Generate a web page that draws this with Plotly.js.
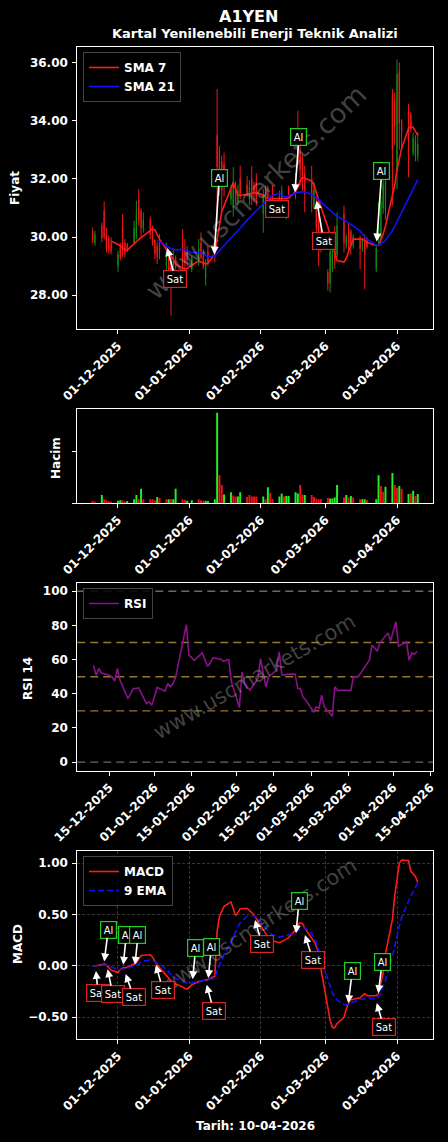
<!DOCTYPE html>
<html><head><meta charset="utf-8">
<script src="https://cdn.plot.ly/plotly-3.0.1.min.js"></script>
<style>html,body{margin:0;padding:0;background:#000;}#chart{width:448px;height:1142px;}</style>
</head><body><div id="chart"></div>
<script>
const dates = ['2025-11-20','2025-11-21','2025-11-24','2025-11-25','2025-11-26','2025-11-27','2025-11-28',
'2025-12-01','2025-12-02','2025-12-03','2025-12-04','2025-12-05',
'2025-12-08','2025-12-09','2025-12-10','2025-12-11','2025-12-12',
'2025-12-15','2025-12-16','2025-12-17','2025-12-18','2025-12-19',
'2025-12-22','2025-12-23','2025-12-24','2025-12-25','2025-12-26',
'2025-12-29','2025-12-30','2025-12-31','2026-01-02',
'2026-01-05','2026-01-06','2026-01-07','2026-01-08','2026-01-09',
'2026-01-12','2026-01-13','2026-01-14','2026-01-15','2026-01-16',
'2026-01-19','2026-01-20','2026-01-21','2026-01-22','2026-01-23',
'2026-01-26','2026-01-27','2026-01-28','2026-01-29','2026-01-30',
'2026-02-02','2026-02-03','2026-02-04','2026-02-05','2026-02-06',
'2026-02-09','2026-02-10','2026-02-11','2026-02-12','2026-02-13',
'2026-02-16','2026-02-17','2026-02-18','2026-02-19','2026-02-20',
'2026-02-23','2026-02-24','2026-02-25','2026-02-26','2026-02-27',
'2026-03-02','2026-03-03','2026-03-04','2026-03-05','2026-03-06',
'2026-03-09','2026-03-10','2026-03-11','2026-03-12','2026-03-13',
'2026-03-16','2026-03-17','2026-03-18','2026-03-19',
'2026-03-23','2026-03-24','2026-03-25','2026-03-26','2026-03-27',
'2026-03-30','2026-03-31','2026-04-01','2026-04-02','2026-04-03',
'2026-04-06','2026-04-07','2026-04-08','2026-04-09','2026-04-10'];

const openP = [30.2,29.8,30.4,30.9,30.1,29.95,29.8, 29.0,29.7,30.3,29.8,29.75, 29.8,30.1,31.3,30.9,30.3, 30.6,30.3,29.9,29.7,29.8, 29.0,29.3,29.3,28.9,29.3, 29.8,29.6,29.5,28.9, 29.1,29.8,29.4,28.6,29.5, 29.8,33.5,33.0,32.6,32.5, 31.3,31.0,31.7,31.2,32.0, 31.8,31.3,32.0,31.8,31.9, 30.8,31.7,31.5,30.9,31.6, 31.4,31.1,30.9,30.9,31.7, 31.9,33.5,32.9,32.5,32.2, 32.0,31.0,31.2,31.0,30.2, 28.8,28.4,28.9,30.0,29.4, 30.8,29.7,30.2,30.2,29.7, 30.0,29.8,29.9,29.95, 28.9,29.9,29.9,31.0,30.9, 34.8,34.7,32.3,35.7,34.0, 34.3,34.2,32.9,32.8,32.8];
const highP = [30.33,30.22,30.5,31.23,30.33,30.05,30.0, 29.53,29.8,30.79,29.93,29.8, 30.56,31.25,31.65,30.99,30.85, 30.7,30.4,29.93,29.82,30.1, 29.8,29.36,29.5,29.6,29.36, 30.27,29.93,29.7,29.36, 29.93,30.16,29.59,29.24,29.7, 29.93,35.09,33.14,32.8,32.9, 31.8,32.4,31.9,31.8,32.45, 32.1,31.95,32.45,31.9,32.2, 31.65,31.77,31.77,31.42,31.77, 31.6,31.77,31.3,31.3,31.77, 32.2,34.34,33.37,32.8,32.45, 32.45,31.9,31.4,31.31,30.39, 28.9,29.93,29.93,30.39,30.85, 31.08,30.1,30.5,30.27,30.1, 30.05,29.98,30.1,30.0, 29.75,31.2,31.4,32.0,32.45, 35.09,34.97,36.1,36.0,34.05, 34.57,34.3,33.6,33.5,33.6];
const lowP = [29.79,29.7,29.82,29.93,29.47,29.42,29.4, 28.79,29.2,29.3,29.3,29.47, 29.76,29.93,30.39,30.0,30.15, 29.93,29.7,29.24,29.07,29.24, 28.79,28.79,27.3,28.79,28.9, 28.79,28.9,29.0,28.79, 29.01,29.24,28.9,28.33,29.0, 29.13,30.39,31.42,30.85,31.4, 31.1,30.7,31.1,31.1,31.3, 31.4,31.1,31.1,31.2,31.08, 30.15,30.96,30.96,30.73,30.85, 30.85,31.0,30.7,30.6,31.4, 31.3,32.45,31.77,31.6,30.85, 30.85,30.96,29.9,29.01,29.47, 28.16,28.1,28.79,28.9,29.3, 29.47,29.6,29.5,29.4,29.6, 28.9,29.5,28.2,29.6, 28.8,29.8,29.7,30.8,30.6, 31.08,33.14,31.65,33.0,33.0, 32.05,33.6,32.8,32.6,32.6];
const closeP = [29.9,30.1,29.95,30.0,29.6,29.55,29.5, 29.4,29.3,29.5,29.4,29.5, 30.3,30.8,30.6,30.3,30.6, 30.1,29.8,29.4,29.3,29.5, 29.6,28.9,28.6,29.3,29.0, 29.0,29.1,29.2,29.3, 29.6,29.3,29.0,29.1,29.1, 29.4,32.4,32.0,31.6,31.8, 31.6,31.9,31.2,31.6,31.4, 31.5,31.7,31.4,31.5,31.3, 31.4,31.1,31.2,31.3,31.1, 31.1,31.6,31.2,31.2,31.45, 31.5,32.6,32.3,31.9,31.5, 31.3,31.6,30.3,29.5,29.6, 28.4,29.5,29.6,29.2,30.4, 29.8,30.0,29.8,29.7,30.0, 29.6,29.9,29.4,29.65, 29.6,30.9,31.2,31.8,32.2, 33.0,33.8,35.6,33.9,33.6, 33.3,33.7,33.4,33.3,33.2];

const sma7 = [null,null,null,null,null,null, 29.87, 29.76,29.7,29.64,29.57,29.54, 29.79,29.86,29.92,29.98,30.04, 30.24,30.28,30.25,30.07,29.93, 29.57,29.47,29.38,29.24,29.06, 28.93,28.9,28.93,29.02, 29.18,29.14,29.1,29.08,29.1, 29.42,29.9,30.42,30.88,31.07, 31.68,31.87,31.65,31.43,31.43, 31.47,31.49,31.51,31.53,31.53, 31.45,31.36,31.32,31.32,31.31, 31.31,31.32,31.32,31.33,31.34, 31.56,31.71,31.93,32.04,32.03, 31.92,31.79,31.53,31.27,31.03, 30.35,30.05,29.72,29.41,29.19, 29.14,29.27,29.5,29.71,29.93, 29.93,29.93,29.88,29.81, 29.71,29.72,29.91,30.1,30.38, 31.39,31.78,32.32,32.74,33.04, 33.73,33.81,33.77,33.64,33.49];
const sma21 = [null,null,null,null,null,null,null,null,null,null,null,null,null,null,null,null,null,null,null,null, 29.87,29.85, 29.69,29.64,29.61,29.58,29.56, 29.58,29.55,29.52,29.47, 29.47,29.47,29.43,29.37,29.32, 29.36,29.44,29.52,29.61,29.71, 29.97,30.05,30.13,30.21,30.3, 30.58,30.66,30.74,30.82,30.9, 31.16,31.23,31.31,31.38,31.43, 31.51,31.45,31.38,31.38,31.42, 31.51,31.53,31.55,31.56,31.55, 31.47,31.4,31.35,31.3,31.21, 30.97,30.91,30.84,30.78,30.71, 30.58,30.54,30.5,30.44,30.38, 30.21,30.1,30.01,29.93, 29.72,29.71,29.78,29.82,29.9, 30.22,30.37,30.54,30.69,30.86, 31.33,31.48,31.64,31.82,31.97];

const volume = [0.45,0.3,1.6,0.8,0.6,0.4,0.3, 0.5,0.6,0.6,0.3,0.45, 0.8,1.6,0.8,2.8,0.8, 0.8,0.8,0.6,1.2,1.0, 0.8,0.8,0.8,0.8,2.8, 0.8,0.7,0.5,0.6, 0.8,0.6,0.5,0.5,0.45, 0.8,17.4,5.4,3.5,1.7, 2.1,1.5,1.3,1.3,2.1, 1.2,1.6,1.3,1.3,1.3, 1.3,0.8,3.1,2.0,0.8, 1.3,1.9,1.3,1.4,1.4, 2.1,1.9,3.5,1.7,1.6, 1.6,1.2,0.9,0.8,0.8, 1.0,0.9,0.9,1.1,3.5, 1.1,1.6,1.1,1.4,1.1, 0.8,0.8,0.8,0.6, 0.8,5.4,3.3,2.2,3.2, 5.8,3.5,3.0,3.3,2.8, 1.8,1.9,2.4,1.4,1.8];
const volumeUp = [0,0,1,0,0,0,0, 1,1,0,0,1, 1,1,0,1,0, 0,0,0,1,0, 0,1,0,1,1, 0,0,1,1, 0,0,0,1,1, 1,1,0,0,1, 1,0,0,1,1, 0,0,0,0,0, 1,0,1,0,0, 1,1,0,1,1, 1,1,0,0,1, 0,0,0,0,0, 0,1,1,1,1, 0,1,0,1,0, 0,1,1,0, 1,1,0,0,1, 1,0,0,1,0, 1,0,1,0,1];

const rsiStart = 13;
const rsi = [56.7,50.9,54.8,52.2, 50.9,49.9,47.4,54.8,48, 37.2,40,43.1,43.1,43.5, 34.3,35.3,33.3,43.7, 41.5,46,44.1,46,49.9, 74,80.5,62.6,61,59.6, 63.9,60,56,58,61, 60.2,59.1,59.6,60,47, 32,52.8,46,44,42.1, 49,60.6,52,44.1,49.9, 53.8,64.5,51,50.9,51.5, 51.5,43.1,43.1,38,36.3, 29.4,32.4,31.4,39.2,32.4, 26.9,44.1,42.1,42.1,41.7, 42,49.9,49.9,50.5, 59.6,68.4,66.5,65.1,70, 75.6,71,76,82.1,67.8, 70.4,59.6,63.9,63.2,65.1];
const rsiLevels = [0,30,50,70,100];

const macd = [0,0,0.01,0.02,0.005,-0.015,-0.04, -0.065,-0.035,-0.02,-0.02,-0.015, 0.02,0.03,0.065,0.1,0.103, 0.108,0.085,0.04,0.01,-0.017, -0.1,-0.125,-0.145,-0.16,-0.175, -0.205,-0.22,-0.225,-0.185, -0.152,-0.147,-0.14,-0.134,-0.132, -0.1,0.34,0.48,0.54,0.58, 0.622,0.56,0.49,0.52,0.555, 0.56,0.54,0.52,0.495,0.46, 0.35,0.31,0.28,0.26,0.245, 0.225,0.235,0.25,0.26,0.275, 0.35,0.4,0.42,0.41,0.37, 0.27,0.24,0.19,0.13,-0.03, -0.41,-0.53,-0.6,-0.6,-0.56, -0.5,-0.42,-0.36,-0.33,-0.326, -0.31,-0.29,-0.27,-0.29, -0.29,-0.27,-0.15,-0.07,0.12, 0.45,0.68,0.86,1.0,1.03, 1.025,0.92,0.89,0.87,0.81];
const signal = [0,0,0.008,0.01,0.005,0,-0.01, -0.035,-0.038,-0.03,-0.022,-0.018, -0.005,0.005,0.015,0.035,0.045, 0.058,0.052,0.04,0.025,0.015, -0.035,-0.06,-0.085,-0.105,-0.12, -0.15,-0.16,-0.168,-0.165, -0.15,-0.145,-0.14,-0.138,-0.135, -0.12,-0.05,0.01,0.06,0.11, 0.23,0.29,0.33,0.38,0.42, 0.48,0.485,0.49,0.49,0.47, 0.4,0.37,0.345,0.32,0.3, 0.28,0.285,0.285,0.29,0.3, 0.33,0.345,0.36,0.375,0.37, 0.32,0.27,0.23,0.16,0.08, -0.13,-0.2,-0.26,-0.31,-0.33, -0.375,-0.38,-0.37,-0.36,-0.35, -0.33,-0.325,-0.32,-0.315, -0.32,-0.3,-0.265,-0.21,-0.14, 0.09,0.2,0.3,0.39,0.47, 0.64,0.68,0.72,0.76,0.81];

// trade signals (crossovers)
const priceSigDates = ['2025-12-22 09:00','2026-01-11 18:00','2026-02-08 02:00','2026-02-15 18:00','2026-02-25 04:00','2026-03-23 05:00'];
const priceSigValues = [29.62, 29.40, 30.96, 31.54, 31.25, 29.85];
const priceSigLabels = ['Sat','Al','Sat','Al','Sat','Al'];
const macdSigDates = ['2025-11-21 11:00','2025-11-26 13:00','2025-11-25 01:00','2025-12-03 07:00','2025-12-08 09:00','2025-12-04 08:00','2025-12-17 11:00','2026-01-02 09:00','2026-01-08 11:00','2026-01-09 04:00','2026-01-29 10:00','2026-02-16 05:00','2026-02-20 02:00','2026-03-10 21:00','2026-03-23 05:00','2026-03-23 21:00'];
const macdSigValues = [-0.049,-0.032,0.042,0.01,0.01,-0.08,0.01,-0.129,-0.184,-0.119,0.447,0.317,0.30,-0.362,-0.362,-0.265];
const macdSigLabels = ['Sat','Sat','Al','Al','Al','Sat','Sat','Al','Sat','Al','Sat','Al','Sat','Al','Sat','Al'];

const priceTicks = ['2025-12-01','2026-01-01','2026-02-01','2026-03-01','2026-04-01'];
const priceTickText = ['01-12-2025','01-01-2026','01-02-2026','01-03-2026','01-04-2026'];
const rsiTicks = ['2025-12-15','2026-01-01','2026-01-15','2026-02-01','2026-02-15','2026-03-01','2026-03-15','2026-04-01','2026-04-15'];
const rsiTickText = ['15-12-2025','01-01-2026','15-01-2026','01-02-2026','15-02-2026','01-03-2026','15-03-2026','01-04-2026','15-04-2026'];

// ---------- styling ----------
const F = 'DejaVu Sans, Verdana, sans-serif';
const tickFont = {family: F, size: 12, color: '#fff', weight: 'bold'};
const XD = [0.1725, 0.9672];
const priceRange = ['2025-11-13 08:24', '2026-04-16 17:45'];
const rsiRange = ['2025-12-02 21:36', '2026-04-16 02:24'];
const UPC = '#128c12', DNC = '#f01818';

function xAxis(extra) {
  return Object.assign({type: 'date', domain: XD, showline: true, mirror: true, linecolor: '#fff', linewidth: 1,
    ticks: 'outside', ticklen: 4, tickcolor: '#fff', tickwidth: 1, showgrid: false, zeroline: false,
    tickangle: -45, tickfont: tickFont, automargin: false, fixedrange: true}, extra);
}
function yAxis(extra) {
  return Object.assign({showline: true, mirror: true, linecolor: '#fff', linewidth: 1,
    ticks: 'outside', ticklen: 4, tickcolor: '#fff', tickwidth: 1, showgrid: false, zeroline: false,
    tickfont: tickFont, automargin: false, fixedrange: true, ticklabelstandoff: 2}, extra);
}

const rsiDates = dates.slice(rsiStart);
const bodyBase = openP.map((o, i) => Math.min(o, closeP[i]));
const bodyLen = openP.map((o, i) => Math.max(Math.abs(closeP[i] - o), 0.02));
const bodyCol = openP.map((o, i) => closeP[i] >= o ? UPC : DNC);

const traces = [
  {type: 'ohlc', x: dates, open: openP, high: highP, low: lowP, close: closeP,
   xaxis: 'x', yaxis: 'y', showlegend: false, hoverinfo: 'skip', tickwidth: 0,
   increasing: {line: {color: UPC, width: 1}}, decreasing: {line: {color: DNC, width: 1}}},
  {type: 'bar', x: dates, y: bodyLen, base: bodyBase, xaxis: 'x', yaxis: 'y', showlegend: false, hoverinfo: 'skip',
   width: 0.55 * 86400000, marker: {color: bodyCol, line: {width: 0}}},
  {type: 'scatter', mode: 'lines', x: dates, y: sma7, name: 'SMA 7', xaxis: 'x', yaxis: 'y',
   line: {color: '#ff1a1a', width: 1.6}, legend: 'legend'},
  {type: 'scatter', mode: 'lines', x: dates, y: sma21, name: 'SMA 21', xaxis: 'x', yaxis: 'y',
   line: {color: '#1010ff', width: 1.6}, legend: 'legend'},
  {type: 'bar', x: dates, y: volume, xaxis: 'x2', yaxis: 'y2', showlegend: false, hoverinfo: 'skip',
   width: 0.85 * 86400000, marker: {color: volumeUp.map(u => u ? '#22ee22' : '#ee1111'), line: {width: 0}}},
  {type: 'scatter', mode: 'lines', x: rsiDates, y: rsi, name: 'RSI', xaxis: 'x3', yaxis: 'y3',
   line: {color: '#8b108b', width: 1.6}, legend: 'legend2'},
  {type: 'scatter', mode: 'lines', x: dates, y: macd, name: 'MACD', xaxis: 'x4', yaxis: 'y4',
   line: {color: '#ff1a1a', width: 1.6}, legend: 'legend3'},
  {type: 'scatter', mode: 'lines', x: dates, y: signal, name: '9 EMA', xaxis: 'x4', yaxis: 'y4',
   line: {color: '#1010ff', width: 1.6, dash: '6px,3px'}, legend: 'legend3'}
];

const shapes = rsiLevels.map(v => ({
  type: 'line', xref: 'x3 domain', x0: 0, x1: 1, yref: 'y3', y0: v, y1: v, layer: 'below',
  line: {color: (v === 0 || v === 100) ? 'rgba(140,140,140,0.75)' : 'rgba(200,160,60,0.75)', width: 1.4, dash: '8px,5px'}
}));

const annotations = [];
function label(x, y, ax, ay, text, xr, yr) {
  const al = text === 'Al';
  const a = {x: x, y: y, xref: xr, yref: yr, text: text,
    font: {family: F, size: 10, color: '#fff'}, bgcolor: '#000',
    bordercolor: al ? '#22cc22' : '#dd2222', borderwidth: 1.2, borderpad: 2.5};
  if (ax === null) { a.showarrow = false; }
  else { Object.assign(a, {showarrow: true, ax: ax, ay: ay, arrowcolor: '#fff', arrowwidth: 1.6, arrowhead: 2, arrowsize: 1, standoff: 0}); }
  annotations.push(a);
}
// watermarks
const wm = {text: 'www.uscmarkets.com', xref: 'paper', yref: 'paper', showarrow: false, xanchor: 'center', yanchor: 'middle'};
annotations.push(Object.assign({}, wm, {x: 255/448, y: 1 - 192/1142, textangle: -44, font: {family: F, size: 27, color: 'rgba(150,150,150,0.45)'}}));
annotations.push(Object.assign({}, wm, {x: 254/448, y: 1 - 677/1142, textangle: -30, font: {family: F, size: 21, color: 'rgba(150,150,150,0.45)'}}));
annotations.push(Object.assign({}, wm, {x: 258/448, y: 1 - 926/1142, textangle: -33, font: {family: F, size: 21, color: 'rgba(150,150,150,0.45)'}}));

const priceOffsets = [[8,31],[5,-77],[null,null],[4,-55],[7,40],[5,-70]];
priceSigDates.forEach((d, i) => label(d, priceSigValues[i], priceOffsets[i][0], priceOffsets[i][1], priceSigLabels[i], 'x', 'y'));
const macdOffsets = [[2,22],[5,25],[4,-32],[3,-30],[3,-30],[8,23],[7,25],[3,-31],[7,26],[3,-31],[7,24],[3,-32],[8,25],[4,-32],[7,24],[4,-31]];
macdSigDates.forEach((d, i) => label(d, macdSigValues[i], macdOffsets[i][0], macdOffsets[i][1], macdSigLabels[i], 'x4', 'y4'));

// titles and axis labels
function ptext(text, px, py, size, angle) {
  annotations.push({text: text, xref: 'paper', yref: 'paper', x: px/448, y: 1 - py/1142, showarrow: false,
    textangle: angle || 0, xanchor: 'center', yanchor: 'middle',
    font: {family: F, size: size, color: '#fff', weight: 'bold'}});
}
ptext('A1YEN', 248.5, 17, 16);
ptext('Kartal Yenilenebili Enerji Teknik Analizi', 255, 34, 13);
ptext('Fiyat', 15, 188, 12, -90);
ptext('Hacim', 56, 458, 12, -90);
ptext('RSI 14', 28, 679, 12, -90);
ptext('MACD', 18, 944, 12, -90);
ptext('Tarih: 10-04-2026', 255, 1126, 12);

const legendBase = {xanchor: 'left', yanchor: 'top', bgcolor: 'rgba(0,0,0,0.85)', bordercolor: '#444', borderwidth: 1,
  font: {family: F, size: 12, color: '#fff', weight: 'bold'}, itemwidth: 30, tracegroupgap: 2};

const layout = {
  width: 448, height: 1142, margin: {l: 0, r: 0, t: 0, b: 0},
  paper_bgcolor: '#000', plot_bgcolor: '#000', font: {family: F, color: '#fff'},
  showlegend: true, barmode: 'overlay',
  legend: Object.assign({}, legendBase, {x: 83/448, y: 1 - 52/1142}),
  legend2: Object.assign({}, legendBase, {x: 83/448, y: 1 - 588/1142}),
  legend3: Object.assign({}, legendBase, {x: 83/448, y: 1 - 856/1142}),
  xaxis: xAxis({anchor: 'y', range: priceRange, tickvals: priceTicks, ticktext: priceTickText, rangeslider: {visible: false}}),
  yaxis: yAxis({anchor: 'x', domain: [0.71165, 0.95858], range: [26.83, 36.52], tickvals: [28,30,32,34,36], tickformat: '.2f'}),
  xaxis2: xAxis({anchor: 'y2', range: priceRange, tickvals: priceTicks, ticktext: priceTickText}),
  yaxis2: yAxis({anchor: 'x2', domain: [0.55928, 0.64159], range: [0, 18.05], tickvals: [0, 10], ticktext: ['', '']}),
  xaxis3: xAxis({anchor: 'y3', range: rsiRange, tickvals: rsiTicks, ticktext: rsiTickText}),
  yaxis3: yAxis({anchor: 'x3', domain: [0.32513, 0.48975], range: [-5, 105], tickvals: [0,20,40,60,80,100]}),
  xaxis4: xAxis({anchor: 'y4', range: priceRange, tickvals: priceTicks, ticktext: priceTickText,
    showgrid: true, gridcolor: 'rgba(160,160,160,0.55)', gridwidth: 0.6, griddash: '3px,2px'}),
  yaxis4: yAxis({anchor: 'x4', domain: [0.08993, 0.25508], range: [-0.714, 1.12], tickvals: [-0.5, 0, 0.5, 1.0], tickformat: '.2f',
    showgrid: true, gridcolor: 'rgba(160,160,160,0.55)', gridwidth: 0.6, griddash: '3px,2px'}),
  shapes: shapes,
  annotations: annotations
};

Plotly.newPlot('chart', traces, layout, {displayModeBar: false, staticPlot: true});
</script>
</body></html>
